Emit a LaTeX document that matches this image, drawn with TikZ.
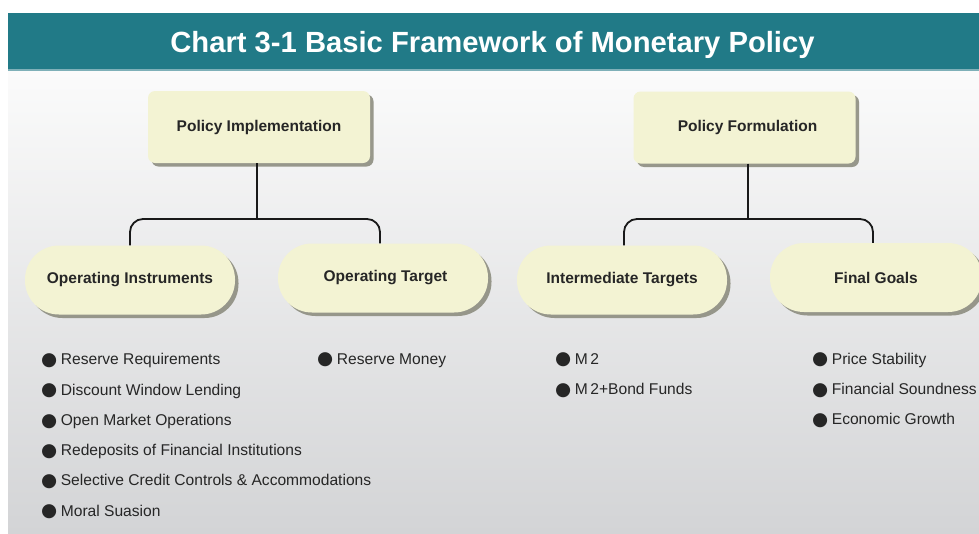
\documentclass[tikz,border=0pt]{standalone}
\usepackage{fontspec}
\setmainfont{Liberation Sans}
\newfontfamily\dejavu{DejaVu Sans}
\usetikzlibrary{shadows}
\definecolor{titlebar}{HTML}{217A87}
\definecolor{titleline}{HTML}{7FB0B8}
\definecolor{boxfill}{HTML}{F3F3D3}
\definecolor{bgtop}{HTML}{FBFBFB}
\definecolor{bgbot}{HTML}{D3D4D6}
\definecolor{shadowc}{HTML}{8E8E80}
\tikzset{
  x=1pt,y=-1pt,
  boxbase/.style={fill=boxfill, draw=none, font=\bfseries\fontsize{15.5}{18}\selectfont, text=black!85,
    drop shadow={shadow xshift=3.5pt, shadow yshift=-3.5pt, fill=shadowc, opacity=0.9}},
  topbox/.style={boxbase, rectangle, rounded corners=7pt, minimum width=222pt, minimum height=72pt},
  pill/.style={boxbase, rectangle, rounded corners=34pt, minimum width=210pt, minimum height=69pt},
  conn/.style={draw=black!90, line width=1.8pt, rounded corners=13pt},
  item/.style={anchor=base west, inner sep=0pt, font=\fontsize{15.6}{18}\selectfont, text=black!85},
}
\newcommand{\bul}{\raisebox{-0.6pt}{\dejavu\fontsize{18.5}{20}\selectfont ●}\hspace{3.5pt}}
\begin{document}
\begin{tikzpicture}
\useasboundingbox (0,0) rectangle (979,533);
\clip (0,0) rectangle (979,533);
\fill[white] (0,0) rectangle (979,533);
% background gradient
\shade[top color=bgtop, bottom color=bgbot] (8,71) rectangle (979,533);
% title bar
\fill[titlebar] (8,13) rectangle (979,70);
\fill[titleline] (8,69) rectangle (979,71);
\node[font=\bfseries\fontsize{29.2}{32}\selectfont, text=white] (title) at (492.5,45) {Chart 3-1 Basic Framework of Monetary Policy};
% top boxes
\node[topbox] (pi) at (259,127) {Policy Implementation};
\node[topbox] (pf) at (744.5,127.5) {\hspace{6pt}Policy Formulation};
% pills
\node[pill] (oi) at (130,280) {Operating Instruments};
\node[pill] (ot) at (383,278) {\hspace{5pt}Operating Target};
\node[pill] (it) at (622,280) {Intermediate Targets};
\node[pill, minimum width=212pt] (fg) at (876,277.5) {Final Goals};
% connectors
\coordinate (j1) at (257,219);
\coordinate (j2) at (748,219);
\draw[conn] (pi.south -| j1) -- (j1);
\draw[conn] ([xshift=0pt]oi.north) |- (j1) -| ([xshift=-3pt]ot.north);
\draw[conn] (pf.south -| j2) -- (j2);
\draw[conn] ([xshift=2pt]it.north) |- (j2) -| ([xshift=-3pt]fg.north);
% bullet lists
\node[item] (a1) at (41,364.5) {\bul Reserve Requirements};
\node[item] (a2) at (41,395) {\bul Discount Window Lending};
\node[item] (a3) at (41,425.5) {\bul Open Market Operations};
\node[item] (a4) at (41,455.5) {\bul Redeposits of Financial Institutions};
\node[item] (a5) at (41,485.5) {\bul Selective Credit Controls \& Accommodations};
\node[item] (a6) at (41,516) {\bul Moral Suasion};
\node[item] (b1) at (317,364) {\bul Reserve Money};
\node[item] (c1) at (555,364) {\bul M\,2};
\node[item] (c2) at (555,394.5) {\bul M\,2+Bond Funds};
\node[item] (d1) at (812,364) {\bul Price Stability};
\node[item] (d2) at (812,394.5) {\bul Financial Soundness};
\node[item] (d3) at (812,424.5) {\bul Economic Growth};
\end{tikzpicture}
\end{document}
